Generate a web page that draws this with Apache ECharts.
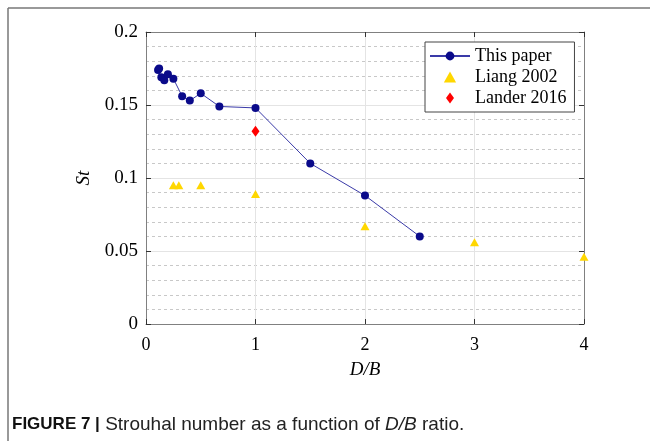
<!DOCTYPE html>
<html>
<head>
<meta charset="utf-8">
<script src="https://cdn.jsdelivr.net/npm/echarts@6/dist/echarts.min.js"></script>
<style>
  html, body { margin: 0; padding: 0; background: #fff; }
  #chart { width: 650px; height: 441px; }
</style>
</head>
<body>
<div id="chart"></div>
<script>
// values
var paperDB = [0.11, 0.12, 0.14, 0.167, 0.2, 0.25, 0.33, 0.4, 0.5, 0.67, 1, 1.5, 2, 2.5];
var paperSt = [0.174, 0.175, 0.169, 0.167, 0.171, 0.168, 0.156, 0.153, 0.158, 0.149, 0.148, 0.11, 0.088, 0.06];

var liangDB = [0.25, 0.3, 0.5, 1, 2, 3, 4];
var liangSt = [0.095, 0.095, 0.095, 0.089, 0.067, 0.056, 0.046];

var landerDB = [1];
var landerSt = [0.132];

var xTicks = [0, 1, 2, 3, 4];
var yTicks = [0, 0.05, 0.1, 0.15, 0.2];

function pairs(xs, ys) {
    var out = [];
    for (var i = 0; i < xs.length; i++) out.push([xs[i], ys[i]]);
    return out;
}

var serif = '"Liberation Serif", "DejaVu Serif", serif';
var sans = '"Liberation Sans", Arial, sans-serif';
var axisGray = '#808080';

// path icons keep their aspect in the legend, builtin ones get stretched
var triIcon = 'path://M0,9 L5,0 L10,9 Z';
var diaIcon = 'path://M4,0 L8,5.5 L4,11 L0,5.5 Z';

var option = {
    animation: false,
    backgroundColor: '#fff',
    grid: {
        left: 146,
        top: 32,
        width: 438,
        height: 292
    },
    legend: {
        orient: 'vertical',
        left: 425,
        top: 42,
        width: 148,
        padding: [5, 8, 5, 4],
        itemGap: 3,
        itemWidth: 40,
        itemHeight: 11,
        borderColor: '#444',
        borderWidth: 1,
        backgroundColor: '#fff',
        textStyle: { fontFamily: serif, fontSize: 18, color: '#000' },
        data: [
            { name: 'This paper' },
            { name: 'Liang 2002', icon: triIcon },
            { name: 'Lander 2016', icon: diaIcon }
        ]
    },
    xAxis: [
        {
            type: 'value',
            min: 0,
            max: 4,
            interval: 1,
            name: 'D/B',
            nameLocation: 'middle',
            nameGap: 36,
            nameTextStyle: { fontFamily: serif, fontSize: 19, fontStyle: 'italic', color: '#000' },
            axisLine: { onZero: false, lineStyle: { color: axisGray, width: 1 } },
            axisTick: { inside: true, length: 5, lineStyle: { color: '#333' } },
            axisLabel: {
                margin: 12,
                fontFamily: serif,
                fontSize: 18,
                color: '#000',
                formatter: function (v) { return xTicks.indexOf(v) >= 0 ? String(v) : ''; }
            },
            splitLine: { show: true, lineStyle: { color: '#e4e4e4', width: 1 } }
        },
        {
            type: 'value',
            position: 'top',
            min: 0,
            max: 4,
            interval: 1,
            axisLine: { show: true, onZero: false, lineStyle: { color: axisGray, width: 1 } },
            axisTick: { show: true, inside: true, length: 5, lineStyle: { color: '#333' } },
            axisLabel: { show: false },
            splitLine: { show: false }
        }
    ],
    yAxis: [
        {
            type: 'value',
            min: 0,
            max: 0.2,
            interval: 0.05,
            name: 'St',
            nameLocation: 'middle',
            nameGap: 50,
            nameTextStyle: { fontFamily: serif, fontSize: 19, fontStyle: 'italic', color: '#000' },
            axisLine: { show: true, onZero: false, lineStyle: { color: axisGray, width: 1 } },
            axisTick: { show: true, inside: true, length: 5, lineStyle: { color: '#333' } },
            axisLabel: {
                margin: 8,
                fontFamily: serif,
                fontSize: 19,
                color: '#000',
                formatter: function (v) {
                    for (var i = 0; i < yTicks.length; i++) {
                        if (Math.abs(yTicks[i] - v) < 1e-9) return String(yTicks[i]);
                    }
                    return '';
                }
            },
            splitLine: { show: true, lineStyle: { color: '#e4e4e4', width: 1 } },
            minorTick: { show: false, splitNumber: 5 },
            minorSplitLine: { show: true, lineStyle: { color: '#c8c8c8', width: 1, type: [3, 3] } }
        },
        {
            type: 'value',
            position: 'right',
            min: 0,
            max: 0.2,
            interval: 0.05,
            axisLine: { show: true, onZero: false, lineStyle: { color: axisGray, width: 1 } },
            axisTick: { show: true, inside: true, length: 5, lineStyle: { color: '#333' } },
            axisLabel: { show: false },
            splitLine: { show: false }
        }
    ],
    series: [
        {
            name: 'This paper',
            type: 'line',
            data: pairs(paperDB, paperSt),
            symbol: 'circle',
            symbolSize: 8,
            lineStyle: { color: '#3a3aa8', width: 1 },
            itemStyle: { color: '#0a0a8a' },
            z: 3
        },
        {
            name: 'Liang 2002',
            type: 'scatter',
            data: pairs(liangDB, liangSt),
            symbol: 'triangle',
            symbolSize: [9, 8],
            itemStyle: { color: '#ffd700', opacity: 1 }
        },
        {
            name: 'Lander 2016',
            type: 'scatter',
            data: pairs(landerDB, landerSt),
            symbol: 'diamond',
            symbolSize: [8, 11],
            itemStyle: { color: '#ff0000', opacity: 1 }
        }
    ],
    graphic: [
        {
            type: 'line',
            shape: { x1: 8, y1: 8, x2: 650, y2: 8 },
            style: { stroke: '#777', lineWidth: 1.5 }
        },
        {
            type: 'line',
            shape: { x1: 8, y1: 8, x2: 8, y2: 441 },
            style: { stroke: '#777', lineWidth: 1.5 }
        },
        {
            type: 'text',
            left: 12,
            top: 415,
            style: {
                text: '{b|FIGURE 7 |} Strouhal number as a function of {i|D/B} ratio.',
                fontFamily: sans,
                fontSize: 19,
                fill: '#222',
                rich: {
                    b: { fontWeight: 'bold', fontSize: 17, fontFamily: sans, fill: '#111' },
                    i: { fontStyle: 'italic', fontSize: 19, fontFamily: sans, fill: '#222' }
                }
            }
        }
    ]
};

var chart = echarts.init(document.getElementById('chart'));
chart.setOption(option);
</script>
</body>
</html>
